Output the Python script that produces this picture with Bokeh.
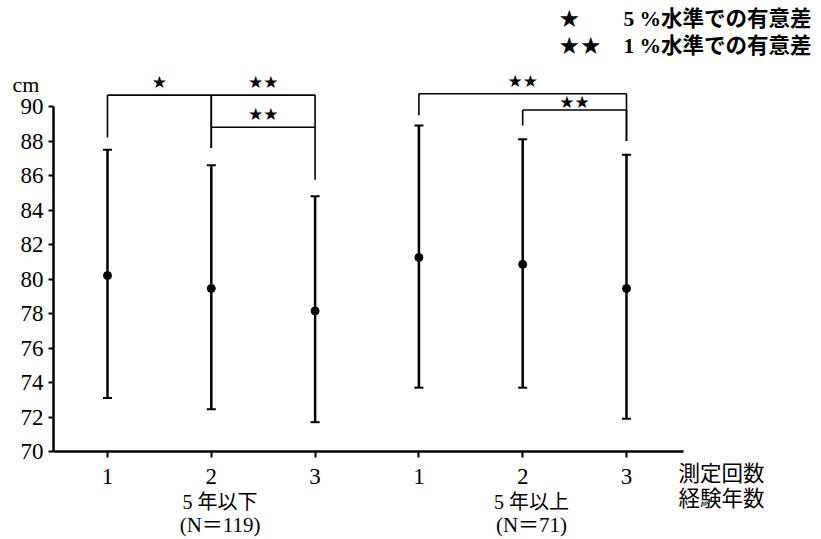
from bokeh.plotting import figure
from bokeh.models import (ColumnDataSource, Range1d, FixedTicker, LinearAxis,
                          Whisker, TeeHead)
from bokeh.core.properties import value
from bokeh.embed import file_html
from bokeh.resources import INLINE

# Waist (cm): mean and spread for each measurement round, by years of experience
group_names = ["5 年以下", "5 年以上"]
group_sizes = ["(N＝119)", "(N＝71)"]
round_labels = ["1", "2", "3"]

mean_le5 = [80.2, 79.45, 78.15]
low_le5 = [73.1, 72.45, 71.7]
high_le5 = [87.5, 86.6, 84.8]

mean_gt5 = [81.25, 80.85, 79.45]
low_gt5 = [73.7, 73.7, 71.9]
high_gt5 = [88.9, 88.1, 87.2]

# Significance brackets: (from position, to position, bar level,
#                         left leg end, right leg end, mark, mark height)
brackets = [
    (1, 2, 90.66, 88.2, 87.6, "★", 91.4),
    (2, 3, 90.66, 87.6, 85.75, "★★", 91.4),
    (2, 3, 88.8, 88.8, 88.8, "★★", 89.55),
    (4, 6, 90.74, 89.5, 88.0, "★★", 91.5),
    (5, 6, 89.8, 88.9, 88.0, "★★", 90.25),
]
key_marks = ["★", "★★"]
key_texts = ["5 %水準での有意差", "1 %水準での有意差"]
axis_captions = ["測定回数", "経験年数"]

SERIF = "Liberation Serif, Noto Sans CJK JP"

n_rounds = len(round_labels)
xs = list(range(1, 2 * n_rounds + 1))
src = ColumnDataSource(dict(
    x=xs,
    mean=mean_le5 + mean_gt5,
    low=low_le5 + low_gt5,
    high=high_le5 + high_gt5,
))

X_LEFT, X_RIGHT = 0.4798, 6.549
Y_BASE, Y_TOP = 70, 90

# the plotting area spans the whole canvas; axes are pinned inside it
p = figure(width=821, height=539, output_backend="svg", toolbar_location=None,
           x_range=Range1d(-0.0308, 7.8786), y_range=Range1d(64.899, 96.145),
           x_axis_location=None, y_axis_location=None, min_border=0)
p.outline_line_color = None
p.grid.visible = False
p.background_fill_color = "white"
p.border_fill_color = "white"

ya = LinearAxis(fixed_location=X_LEFT, bounds=(Y_BASE, Y_TOP),
                ticker=FixedTicker(ticks=list(range(Y_BASE, Y_TOP + 1, 2))))
ya.axis_line_width = 2.5
ya.major_tick_line_width = 2
ya.major_tick_in = 0
ya.major_tick_out = 5
ya.minor_tick_line_color = None
ya.major_label_standoff = 5
ya.major_label_text_font = SERIF
ya.major_label_text_font_size = "23px"
ya.major_label_text_color = "black"
p.add_layout(ya, "left")

# measurement rounds repeat for each group
xa = LinearAxis(fixed_location=Y_BASE, bounds=(X_LEFT, X_RIGHT),
                ticker=FixedTicker(ticks=xs))
xa.major_label_overrides = {x: round_labels[(x - 1) % n_rounds] for x in xs}
xa.axis_line_width = 2.5
xa.major_tick_line_width = 2
xa.major_tick_in = 0
xa.major_tick_out = 6
xa.minor_tick_line_color = None
xa.major_label_standoff = 11
xa.major_label_text_font = SERIF
xa.major_label_text_font_size = "23px"
xa.major_label_text_color = "black"
p.add_layout(xa, "below")

# error bars and means
p.add_layout(Whisker(source=src, base="x", lower="low", upper="high",
                     line_width=2.5, line_color="black",
                     lower_head=TeeHead(size=9, line_width=2, line_color="black"),
                     upper_head=TeeHead(size=9, line_width=2, line_color="black")))
p.scatter("x", "mean", source=src, size=8, color="black")

# significance brackets
hx0, hx1, hy = [], [], []
vx, vy0, vy1 = [], [], []
mx, my, mt = [], [], []
for a, b, lvl, la, lb, mark, mh in brackets:
    hx0.append(a); hx1.append(b); hy.append(lvl)
    vx += [a, b]; vy0 += [lvl, lvl]; vy1 += [la, lb]
    mx.append((a + b) / 2); my.append(mh); mt.append(mark)
p.segment(x0=hx0, y0=hy, x1=hx1, y1=hy, line_width=1.6, line_color="black")
p.segment(x0=vx, y0=vy0, x1=vx, y1=vy1, line_width=1.6, line_color="black")
p.text(x=mx, y=my, text=mt, text_align="center", text_baseline="middle",
       text_font=value("DejaVu Sans"), text_font_size="17px", text_color="black")

# unit label
p.text(x=[0.215], y=[91.28], text=["cm"], text_align="center",
       text_baseline="alphabetic", text_font=value(SERIF),
       text_font_size="22px", text_color="black")

# group captions under the axis
gx = [2 + i * n_rounds + 0.085 for i in range(len(group_names))]
p.text(x=gx, y=[67.05] * len(gx), text=group_names, text_align="center",
       text_baseline="middle", text_font=value(SERIF),
       text_font_size="20px", text_color="black")
p.text(x=gx, y=[65.72] * len(gx), text=group_sizes, text_align="center",
       text_baseline="middle", text_font=value(SERIF),
       text_font_size="21px", text_color="black")

# axis captions on the right
p.text(x=[6.501] * 2, y=[68.72, 67.25], text=axis_captions, text_align="left",
       text_baseline="middle", text_font=value(SERIF),
       text_font_size="21.5px", text_color="black")

# key for the significance marks
p.text(x=[5.345] * 2, y=[95.1, 93.48], text=key_marks, text_align="left",
       text_baseline="middle", text_font=value("DejaVu Sans"),
       text_font_size="24px", text_color="black")
p.text(x=[5.971] * 2, y=[95.1, 93.48], text=key_texts, text_align="left",
       text_baseline="middle", text_font=value(SERIF), text_font_style="bold",
       text_font_size="21.5px", text_color="black")

open("out.html", "w").write(file_html(p, INLINE))
